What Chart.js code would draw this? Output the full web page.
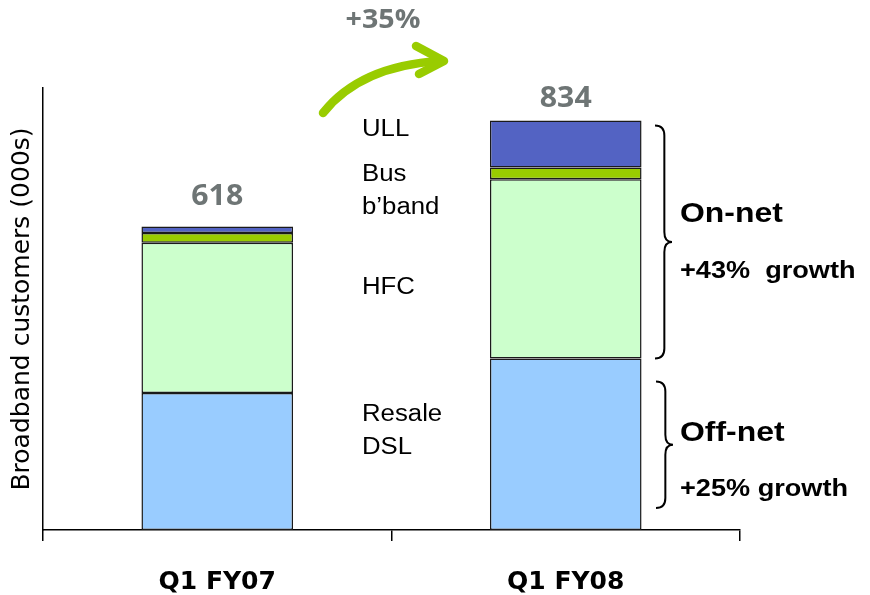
<!DOCTYPE html>
<html>
<head>
<meta charset="utf-8">
<script src="https://cdn.jsdelivr.net/npm/chart.js@4.4.1/dist/chart.umd.min.js"></script>
<style>
  html, body { margin: 0; padding: 0; background: #ffffff; }
  #wrap { width: 870px; height: 595px; }
</style>
</head>
<body>
<div id="wrap"><canvas id="chart" width="870" height="595"></canvas></div>
<script>
// Broadband customer base (000s) by access type
const categories = ['Q1 FY07', 'Q1 FY08'];
const resaleDsl  = [279, 349];
const hfc        = [306, 365];
const busBband   = [20, 24];
const ull        = [13, 96];

const axisTitle   = 'Broadband customers (000s)';
const totalGrowth = '+35%';
const onNetText   = ['On-net', '+43%  growth'];
const offNetText  = ['Off-net', '+25% growth'];

const COLORS = {
  resale: '#99ccff',
  hfc: '#ccffcc',
  bus: '#99cc00',
  ull: '#5363c3',
  edge: '#1a1a1a',
  grey: '#6e7575',
  arrow: '#99cc00'
};

const totals = categories.map((_, i) => resaleDsl[i] + hfc[i] + busBband[i] + ull[i]);

// Text drawn slightly wide, the way the deck renders it
function wideText(ctx, txt, x, y, font, color, align, sx) {
  ctx.save();
  ctx.font = font;
  ctx.fillStyle = color;
  ctx.textAlign = align;
  ctx.textBaseline = 'middle';
  ctx.translate(x, y);
  ctx.scale(sx, 1);
  ctx.fillText(txt, 0, 0);
  ctx.restore();
}

// Right-pointing curly brace between y1 and y2
function brace(ctx, x, y1, y2, w) {
  const mid = (y1 + y2) / 2;
  const r = 10;
  const xm = x + w * 0.55;
  ctx.beginPath();
  ctx.moveTo(x, y1);
  ctx.quadraticCurveTo(xm, y1, xm, y1 + r);
  ctx.lineTo(xm, mid - r);
  ctx.quadraticCurveTo(xm, mid, x + w, mid);
  ctx.quadraticCurveTo(xm, mid, xm, mid + r);
  ctx.lineTo(xm, y2 - r);
  ctx.quadraticCurveTo(xm, y2, x, y2);
  ctx.stroke();
}

const annotations = {
  id: 'annotations',
  afterDatasetsDraw(chart) {
    const { ctx, scales: { x, y } } = chart;

    // totals above each stack
    const totalOffset = [29, 21];
    totals.forEach((t, i) => {
      wideText(ctx, String(t), x.getPixelForValue(i), y.getPixelForValue(t) - totalOffset[i],
        'bold 28px "Open Sans"', COLORS.grey, 'center', 1.08);
    });

    // growth arrow between the stacks
    ctx.save();
    ctx.strokeStyle = COLORS.arrow;
    ctx.lineWidth = 8.5;
    ctx.lineCap = 'round';
    ctx.lineJoin = 'round';
    ctx.beginPath();
    ctx.moveTo(323, 113);
    ctx.quadraticCurveTo(360, 66, 440, 61);
    ctx.stroke();
    ctx.beginPath();
    ctx.moveTo(416, 46);
    ctx.lineTo(444, 61);
    ctx.lineTo(419, 74);
    ctx.stroke();
    ctx.restore();
    wideText(ctx, totalGrowth, 383, 21, 'bold 26px "Open Sans"', COLORS.grey, 'center', 1.1);

    // segment names
    const seg = '23px "Liberation Sans"';
    const lx = 362;
    [['ULL', 130], ['Bus', 175], ['b\u2019band', 208], ['HFC', 288], ['Resale', 415], ['DSL', 448]]
      .forEach(([t, ty]) => wideText(ctx, t, lx, ty, seg, '#000', 'left', 1.12));

    // on-net / off-net brackets beside the latest stack
    const onTop = y.getPixelForValue(totals[1]) + 5;
    const onBot = y.getPixelForValue(resaleDsl[1]);
    const offTop = y.getPixelForValue(resaleDsl[1]) + 23;
    const offBot = y.getPixelForValue(0) - 22;
    ctx.save();
    ctx.strokeStyle = '#000';
    ctx.lineWidth = 2;
    brace(ctx, 655, onTop, onBot, 17);
    brace(ctx, 656, offTop, offBot, 17);
    ctx.restore();

    wideText(ctx, onNetText[0], 680, 214, 'bold 28px "Liberation Sans"', '#000', 'left', 1.14);
    wideText(ctx, onNetText[1], 680, 271, 'bold 24px "Liberation Sans"', '#000', 'left', 1.13);
    wideText(ctx, offNetText[0], 680, 433, 'bold 28px "Liberation Sans"', '#000', 'left', 1.14);
    wideText(ctx, offNetText[1], 680, 489, 'bold 24px "Liberation Sans"', '#000', 'left', 1.13);
  }
};

const seriesStyle = (label, data, color) => ({
  label, data,
  backgroundColor: color,
  borderColor: COLORS.edge,
  borderWidth: 1.5,
  borderSkipped: false
});

new Chart(document.getElementById('chart'), {
  type: 'bar',
  data: {
    labels: categories,
    datasets: [
      seriesStyle('Resale DSL', resaleDsl, COLORS.resale),
      seriesStyle('HFC', hfc, COLORS.hfc),
      seriesStyle('Bus b\u2019band', busBband, COLORS.bus),
      seriesStyle('ULL', ull, COLORS.ull)
    ]
  },
  options: {
    responsive: false,
    animation: false,
    devicePixelRatio: 1,
    layout: { padding: { left: 0, right: 130, top: 88, bottom: 0 } },
    datasets: { bar: { categoryPercentage: 1, barPercentage: 0.435 } },
    plugins: {
      legend: { display: false },
      tooltip: { enabled: false }
    },
    scales: {
      x: {
        stacked: true,
        grid: { display: true, drawOnChartArea: false, drawTicks: true, tickLength: 11, color: '#000', lineWidth: 1.5 },
        border: { display: true, color: '#000', width: 1.5 },
        ticks: { color: '#000', padding: 26, font: { family: 'DejaVu Sans', size: 25, weight: 'bold' } },
        afterFit(s) { s.height = 65; }
      },
      y: {
        stacked: true,
        min: 0,
        max: 900,
        grid: { display: false, drawTicks: false },
        border: { display: true, color: '#000', width: 1.5 },
        ticks: { display: false },
        title: {
          display: true,
          text: axisTitle,
          color: '#000',
          font: { family: 'DejaVu Sans', size: 25 },
          padding: { top: 7, bottom: 0 }
        },
        afterFit(s) { s.width = 43; }
      }
    }
  },
  plugins: [annotations]
});
</script>
</body>
</html>
